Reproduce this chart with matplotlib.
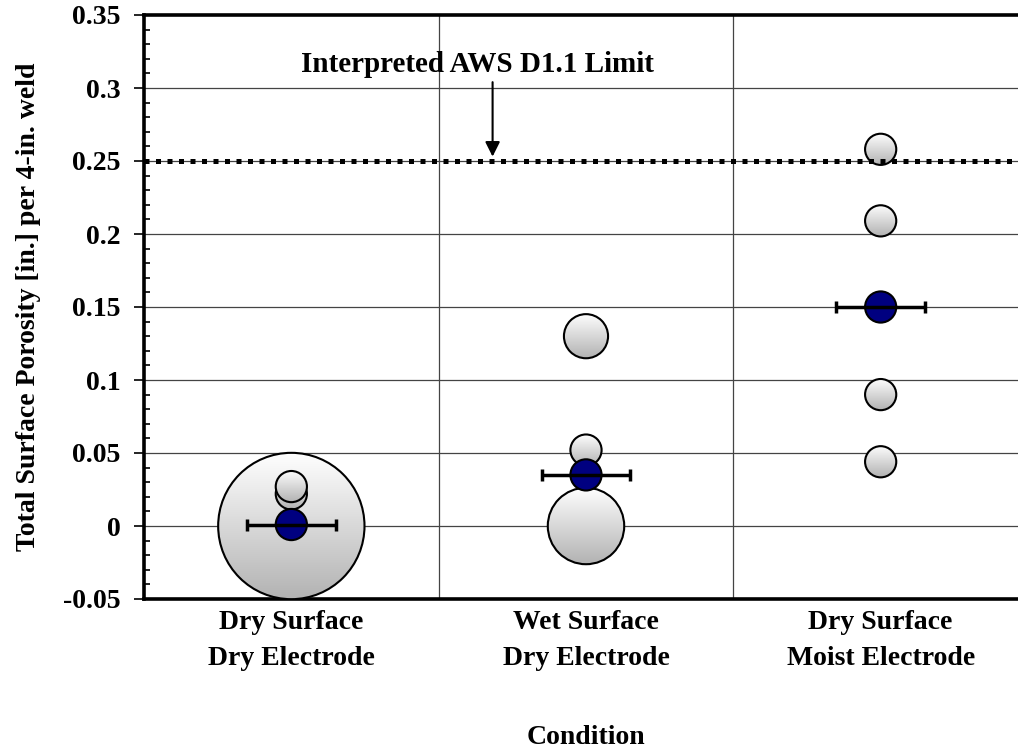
import numpy as np
import matplotlib.pyplot as plt
from matplotlib.patches import Circle
from matplotlib.transforms import ScaledTranslation
from matplotlib.ticker import MultipleLocator, FuncFormatter

plt.rcParams['font.family'] = ['Liberation Serif', 'DejaVu Serif']
plt.rcParams['font.weight'] = 'bold'

conditions = ['Dry Surface\nDry Electrode', 'Wet Surface\nDry Electrode',
              'Dry Surface\nMoist Electrode']

# porosity per specimen group (in. per 4-in. weld) and number of specimens
porosity = [[0.0, 0.022, 0.027],
            [0.0, 0.052, 0.130],
            [0.258, 0.209, 0.090, 0.044]]
counts = [[22, 1, 1],
          [6, 1, 2],
          [1, 1, 1, 1]]
mean_porosity = [0.001, 0.035, 0.150]
mean_spread = [0.15, 0.15, 0.15]
aws_limit = 0.25

fig = plt.figure(figsize=(10.18, 7.51), dpi=100)
ax = fig.add_axes([144 / 1018, 152 / 751, 884 / 1018, 584 / 751])
ax.set_xlim(0.5, 3.5)
ax.set_ylim(-0.05, 0.35)
ax.set_autoscale_on(False)

base_r = 15.6  # bubble radius in px for a count of 1

grad = np.linspace(0.70, 1.0, 256).reshape(-1, 1)
grad = np.dstack([grad, grad, grad])


def bubble(x, y, r_px, z, face=None):
    off = ScaledTranslation(x, y, ax.transData)
    circ = Circle((0, 0), r_px / fig.dpi, transform=fig.dpi_scale_trans + off,
                  facecolor=face if face else 'none', edgecolor='black',
                  linewidth=1.5, zorder=z + 0.1)
    ax.add_patch(circ)
    if face is None:
        inv = ax.transData.inverted()
        cx, cy = ax.transData.transform((x, y))
        x0, y0 = inv.transform((cx - r_px, cy - r_px))
        x1, y1 = inv.transform((cx + r_px, cy + r_px))
        im = ax.imshow(grad, extent=(x0, x1, y0, y1), origin='lower',
                       aspect='auto', zorder=z, interpolation='bilinear')
        im.set_clip_path(circ)


z = 3
for i, (vals, ns) in enumerate(zip(porosity, counts)):
    xpos = i + 1
    for v, n in zip(vals, ns):
        bubble(xpos, v, base_r * np.sqrt(n), z)
        z += 1

for i, m in enumerate(mean_porosity):
    bubble(i + 1, m, base_r, 40, face='#000080')

ax.errorbar(np.arange(1, 4), mean_porosity, xerr=mean_spread, fmt='none',
            ecolor='black', elinewidth=2.5, capsize=4.5, capthick=2.5, zorder=50)

# AWS limit line and annotation
ax.axhline(aws_limit, color='black', linewidth=3.6, linestyle=(0, (1.0, 1.3)),
           dash_capstyle='butt', zorder=30)
ax.annotate('', xy=(1.683, aws_limit + 0.003), xytext=(1.683, 0.304),
            arrowprops=dict(arrowstyle='-|>', color='black', lw=1.5,
                            mutation_scale=22, shrinkA=0, shrinkB=0))
ax.text(1.633, 0.311, 'Interpreted AWS D1.1 Limit', ha='center', va='baseline',
        fontsize=21, fontweight='bold')

# grid
ax.yaxis.set_major_locator(MultipleLocator(0.05))
ax.yaxis.set_minor_locator(MultipleLocator(0.01))
ax.yaxis.set_major_formatter(FuncFormatter(lambda v, p: f'{round(v, 2):g}'))
for yv in np.arange(-0.05, 0.351, 0.05)[1:-1]:
    ax.axhline(yv, color='#444444', linewidth=0.9, zorder=1)
for xb in [1.5, 2.5]:
    ax.axvline(xb, color='#444444', linewidth=0.9, zorder=1)

ax.set_xticks([1, 2, 3])
ax.set_xticklabels(conditions, fontsize=20, fontweight='bold', linespacing=1.55)
ax.tick_params(axis='x', length=0, pad=8)
ax.tick_params(axis='y', which='major', direction='out', length=7, width=1.2,
               labelsize=20, pad=10)
ax.tick_params(axis='y', which='minor', direction='in', length=4.5, width=1.2)
for s in ax.spines.values():
    s.set_linewidth(2.6)

ax.set_ylabel('Total Surface Porosity [in.] per 4-in. weld', fontsize=20,
              fontweight='bold', labelpad=16)
ax.set_xlabel('Condition', fontsize=20, fontweight='bold')
ax.xaxis.label.set_va('center')
ax.xaxis.set_label_coords(0.5, -0.237)

fig.savefig('out.png', dpi=100)
